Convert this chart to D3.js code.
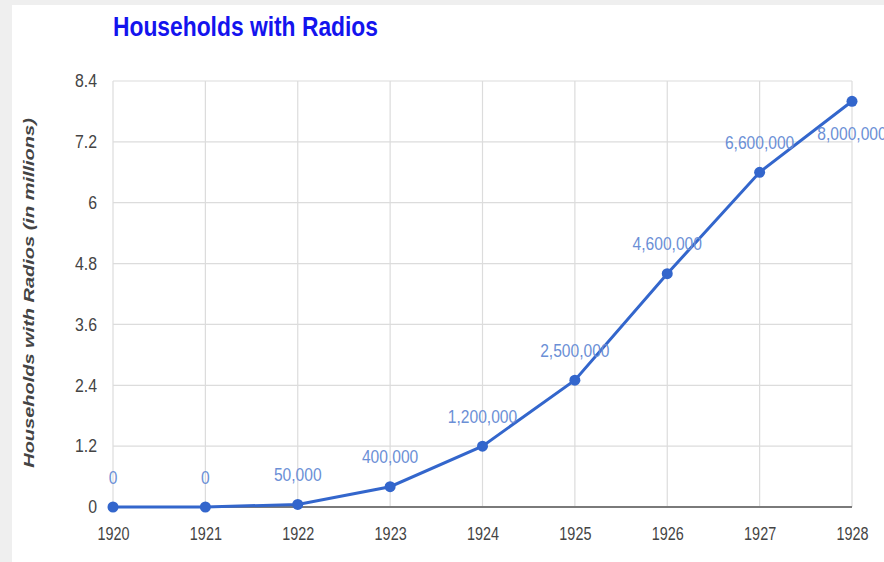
<!DOCTYPE html>
<html>
<head>
<meta charset="utf-8">
<script src="https://cdn.jsdelivr.net/npm/d3@7"></script>
<style>
  body { margin: 0; background: #fff; }
  svg { display: block; font-family: "Liberation Sans", Arial, sans-serif; }
</style>
</head>
<body>
<svg id="chart" width="884" height="562"></svg>
<script>
const years = [1920, 1921, 1922, 1923, 1924, 1925, 1926, 1927, 1928];
const households = [0, 0, 50000, 400000, 1200000, 2500000, 4600000, 6600000, 8000000];
const yTicks = [0, 1.2, 2.4, 3.6, 4.8, 6, 7.2, 8.4];

const svg = d3.select('#chart');
const margin = {left: 113, right: 32, top: 81, bottom: 55};
const W = 884, H = 562;

// squeeze text horizontally, the picture looks narrowed
function squeeze(sel, k){
    sel.each(function(){
        const w = this.getComputedTextLength();
        d3.select(this).attr('textLength', w * k).attr('lengthAdjust', 'spacingAndGlyphs');
    });
}

// grey frame strip
svg.append('rect').attr('width', W).attr('height', H).attr('fill', '#efefef');
svg.append('rect').attr('x', 12).attr('y', 5).attr('width', W - 12).attr('height', H - 5).attr('fill', '#fff');

const x = d3.scaleLinear().domain([1920, 1928]).range([margin.left, W - margin.right]);
const y = d3.scaleLinear().domain([0, 8.4]).range([H - margin.bottom, margin.top]);

// gridlines
const grid = svg.append('g');
grid.selectAll('line.h').data(yTicks).enter().append('line')
    .attr('x1', x(1920)).attr('x2', x(1928))
    .attr('y1', d => y(d)).attr('y2', d => y(d))
    .attr('stroke', '#dcdcdc').attr('stroke-width', 1.2);
grid.selectAll('line.v').data(years).enter().append('line')
    .attr('x1', d => x(d)).attr('x2', d => x(d))
    .attr('y1', y(0)).attr('y2', y(8.4))
    .attr('stroke', '#dcdcdc').attr('stroke-width', 1.2);

// baseline
svg.append('line')
    .attr('x1', x(1920)).attr('x2', x(1928))
    .attr('y1', y(0)).attr('y2', y(0))
    .attr('stroke', '#7a7a7a').attr('stroke-width', 2);

// axes
const yAxis = d3.axisLeft(y).tickValues(yTicks).tickSize(0).tickPadding(16)
    .tickFormat(d => d3.format('')(+d.toFixed(1)));
const yG = svg.append('g').attr('transform', 'translate(' + x(1920) + ',0)').call(yAxis);
yG.select('.domain').remove();
yG.selectAll('text').attr('fill', '#444').style('font-size', '18px');
squeeze(yG.selectAll('text'), 0.88);

const xAxis = d3.axisBottom(x).tickValues(years).tickSize(0).tickPadding(20).tickFormat(d3.format('d'));
const xG = svg.append('g').attr('transform', 'translate(0,' + y(0) + ')').call(xAxis);
xG.select('.domain').remove();
xG.selectAll('text').attr('fill', '#444').style('font-size', '18px');
squeeze(xG.selectAll('text'), 0.8);

// line + points
const pts = years.map((yr, i) => ({year: yr, value: households[i] / 1e6, raw: households[i]}));
const line = d3.line().x(d => x(d.year)).y(d => y(d.value));
svg.append('path').datum(pts)
    .attr('d', line)
    .attr('fill', 'none')
    .attr('stroke', '#3366cc')
    .attr('stroke-width', 3);
svg.selectAll('circle.pt').data(pts).enter().append('circle')
    .attr('cx', d => x(d.year)).attr('cy', d => y(d.value)).attr('r', 5.5)
    .attr('fill', '#3366cc');

// data labels, above the point unless too close to the top
const labels = svg.selectAll('text.lbl').data(pts).enter().append('text')
    .attr('x', d => x(d.year))
    .attr('y', d => y(d.value) - 30 < y(8.4) + 20 ? y(d.value) + 32 : y(d.value) - 30)
    .attr('dy', '0.35em')
    .attr('text-anchor', 'middle')
    .attr('fill', '#6b8fd6')
    .style('font-size', '19px')
    .text(d => d3.format(',')(d.raw));
squeeze(labels, 0.82);

// title
const title = svg.append('text')
    .attr('x', 113).attr('y', 36)
    .attr('fill', '#1414ee')
    .style('font-size', '28px').style('font-weight', 'bold')
    .text('Households with Radios');
squeeze(title, 0.815);

// y axis title
svg.append('text')
    .attr('transform', 'translate(29,' + 293 + ') scale(0.75,1) rotate(-90)')
    .attr('text-anchor', 'middle')
    .attr('dy', '0.35em')
    .attr('fill', '#444')
    .style('font-size', '20px').style('font-weight', 'bold').style('font-style', 'italic')
    .text('Households with Radios (in millions)');
</script>
</body>
</html>
